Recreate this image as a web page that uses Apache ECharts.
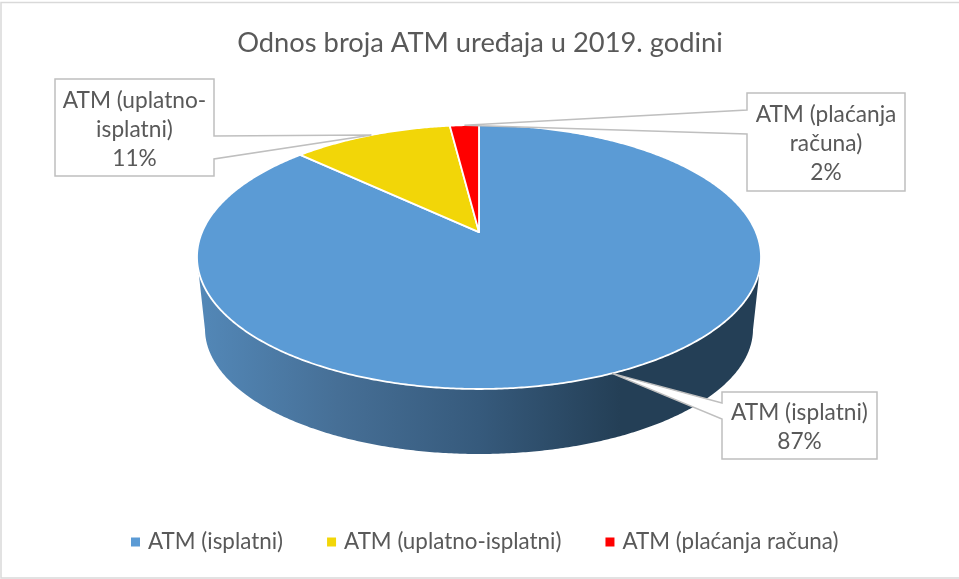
<!DOCTYPE html>
<html><head><meta charset="utf-8">
<style>html,body{margin:0;padding:0;background:#fff}#c{width:959px;height:579px}</style>
<script src="https://cdn.jsdelivr.net/npm/echarts@6/dist/echarts.min.js"></script>
</head><body><div id="c"></div>
<script>
const chartTitle = 'Odnos broja ATM uređaja u 2019. godini';
const categories = ['ATM (isplatni)', 'ATM (uplatno-isplatni)', 'ATM (plaćanja računa)'];
const labelLines = [['ATM (isplatni)'], ['ATM (uplatno-', 'isplatni)'], ['ATM (plaćanja', 'računa)']];
const shares = [87, 11, 2];
const colors = ['#5B9BD5', '#F2D608', '#FF0000'];

const FONT = 'Lato';
const TEXT = '#595959';
// projection of the tilted disc
const top3d = {cx: 479, cy: 257, rx: 282, ry: 132};
const bot3d = {cx: 479, cy: 329, rx: 274, ry: 125};
const tilt = -0.189;
// callout boxes [left, top, right, bottom, pointerY1, pointerY2]
const boxes = [
  [722, 392, 877, 459, 403, 419],
  [55, 79, 214, 176, 136, 159],
  [747, 93, 905, 191, 110, 134]
];
const boxSide = ['l', 'r', 'l'];
const total = shares.reduce((a, b) => a + b, 0);

function project(e, theta) {
  const u = Math.sin(theta), v = -Math.cos(theta);
  const w = 1 + tilt * v;
  const up = u * Math.sqrt(1 - tilt * tilt) / w, vp = (v + tilt) / w;
  return {x: e.cx + e.rx * up, y: e.cy + e.ry * vp, front: vp >= 0};
}
function range(i) {
  let s = 0;
  for (let k = 0; k < i; k++) s += shares[k];
  return [s / total * 2 * Math.PI, (s + shares[i]) / total * 2 * Math.PI];
}
function renderSlice(i) {
  return function () {
    const [a0, a1] = range(i);
    const n = Math.max(8, Math.round((a1 - a0) * 120));
    const rim = [], topF = [], botF = [];
    for (let j = 0; j <= n; j++) {
      const t = a0 + (a1 - a0) * j / n;
      const p = project(top3d, t);
      rim.push([p.x, p.y]);
      if (p.front) {
        topF.push([p.x, p.y]);
        const b = project(bot3d, t);
        botF.push([b.x, b.y]);
      }
    }
    const apex = [top3d.cx, top3d.cy + top3d.ry * tilt];
    const children = [];
    if (topF.length) {
      children.push({
        type: 'polygon', z2: 1,
        shape: {points: topF.concat(botF.slice().reverse())},
        style: {
          fill: new echarts.graphic.LinearGradient(0, 0, 1, 0, [
            {offset: 0, color: '#5388B8'},
            {offset: 0.25, color: '#466F96'},
            {offset: 0.5, color: '#365A7C'},
            {offset: 0.75, color: '#243F56'},
            {offset: 1, color: '#243F56'}
          ]),
          stroke: null
        }
      });
    }
    children.push({
      type: 'polygon', z2: 2,
      shape: {points: [apex].concat(rim)},
      style: {fill: colors[i], stroke: '#fff', lineWidth: 1.8, lineJoin: 'round'}
    });
    // callout
    const tip = project(top3d, (a0 + a1) / 2);
    const b = boxes[i];
    const pts = boxSide[i] === 'l'
      ? [[b[0], b[1]], [b[2], b[1]], [b[2], b[3]], [b[0], b[3]], [b[0], b[5]], [tip.x, tip.y], [b[0], b[4]]]
      : [[b[0], b[1]], [b[2], b[1]], [b[2], b[4]], [tip.x, tip.y], [b[2], b[5]], [b[2], b[3]], [b[0], b[3]]];
    children.push({
      type: 'polygon', z2: 20,
      shape: {points: pts},
      style: {fill: '#fff', stroke: '#BFBFBF', lineWidth: 1.5, lineJoin: 'miter'}
    });
    children.push({
      type: 'text', z2: 21,
      style: {
        x: (b[0] + b[2]) / 2, y: (b[1] + b[3]) / 2 + 2,
        text: labelLines[i].concat(shares[i] + '%').join('\n'),
        align: 'center', verticalAlign: 'middle',
        font: '22.7px ' + FONT, lineHeight: 29, fill: TEXT
      }
    });
    return {type: 'group', children};
  };
}

const chart = echarts.init(document.getElementById('c'), null, {renderer: 'canvas', width: 959, height: 579});
chart.setOption({
  animation: false,
  backgroundColor: '#fff',
  color: colors,
  title: {
    text: chartTitle, left: 475, top: 25, textAlign: 'center',
    textStyle: {fontFamily: FONT, fontSize: 27.3, fontWeight: 'normal', color: TEXT}
  },
  legend: {
    data: categories, left: 126, top: 526, icon: 'rect', itemWidth: 9, itemHeight: 9,
    itemGap: 44, selectedMode: false,
    textStyle: {fontFamily: FONT, fontSize: 22.4, color: TEXT, padding: [0, 0, 0, 3]}
  },
  graphic: [{
    type: 'rect', silent: true, z: -1,
    shape: {x: 1, y: 2.5, width: 962, height: 575.5},
    style: {fill: '#fff', stroke: '#D9D9D9', lineWidth: 1.5}
  }],
  series: categories.map((name, i) => ({
    type: 'custom', name, coordinateSystem: 'none', z: 2,
    data: [shares[i]], renderItem: renderSlice(i), silent: true
  }))
});
</script></body></html>
